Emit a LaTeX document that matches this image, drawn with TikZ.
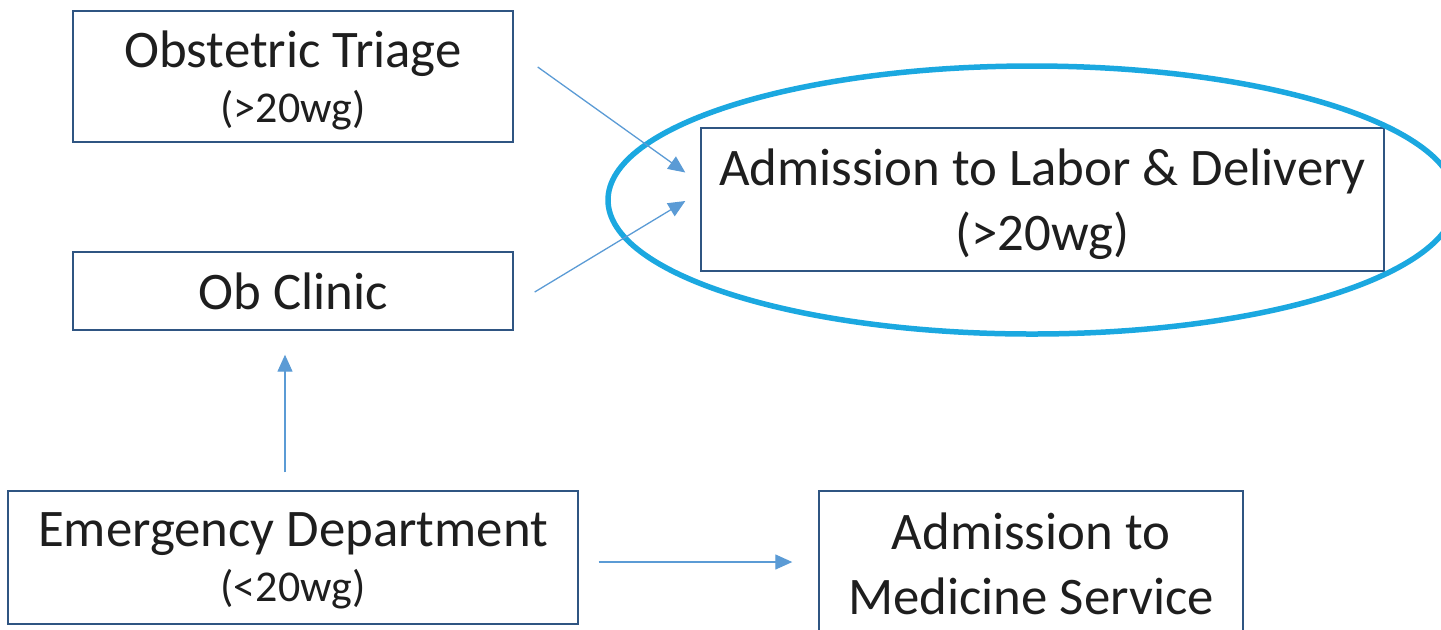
\documentclass[tikz,border=0pt]{standalone}
\usepackage{fontspec}
\setmainfont{Carlito}
\usetikzlibrary{arrows.meta, calc}

\definecolor{boxline}{RGB}{47,85,130}
\definecolor{flowline}{RGB}{91,155,213}
\definecolor{ringblue}{RGB}{27,168,224}
\definecolor{txt}{RGB}{30,30,30}

\newcommand{\wgnote}[1]{{\fontsize{22}{26}\selectfont #1}}

\begin{document}
\begin{tikzpicture}[
        x=0.5pt, y=-0.5pt,
        unit/.style={
            rectangle,
            draw=boxline,
            line width=0.7pt,
            align=center,
            text=txt,
            inner sep=0pt,
            text depth=0pt,
            font=\fontsize{26.4}{32.5}\selectfont
        },
        flow/.style={-{Triangle[length=8.5pt,width=7.5pt]}, line width=0.65pt, draw=flowline}
    ]

    \useasboundingbox (0,0) rectangle (1441,629);

    \node (triage)    [unit, minimum width=220pt, minimum height=65.5pt] at (293,76.5) {Obstetric Triage\\[-5pt]\wgnote{(>20wg)}};
    \node (obclinic)  [unit, minimum width=220pt, minimum height=39pt] at (293,291) {Ob Clinic};
    \node (labor)     [unit, minimum width=341.5pt, minimum height=71.5pt] at (1042.5,199.5) {Admission to Labor \& Delivery\\(>20wg)};
    \node (emergency) [unit, minimum width=285pt, minimum height=66.5pt] at (293,557.5) {Emergency Department\\[-5pt]\wgnote{(<20wg)}};
    \node (medicine)  [unit, minimum width=212pt, minimum height=73pt] at (1031,564) {Admission to\\Medicine Service};

    % ring round the labor admission
    \draw [ringblue, line width=2.75pt] (1032,200) ellipse [x radius=424, y radius=134];

    \draw [flow] ($(triage.east)+(24,-9.5)$) -- ($(labor.west)+(-15,-27)$);
    \draw [flow] ($(obclinic.east)+(21,1)$) -- ($(labor.west)+(-15,1.5)$);
    \draw [flow] ($(emergency.north)+(-8,-18)$) -- ($(obclinic.south)+(-8,24)$);
    \draw [flow] ($(emergency.east)+(20,4.5)$) -- ($(medicine.west)+(-26,-2)$);

\end{tikzpicture}
\end{document}
